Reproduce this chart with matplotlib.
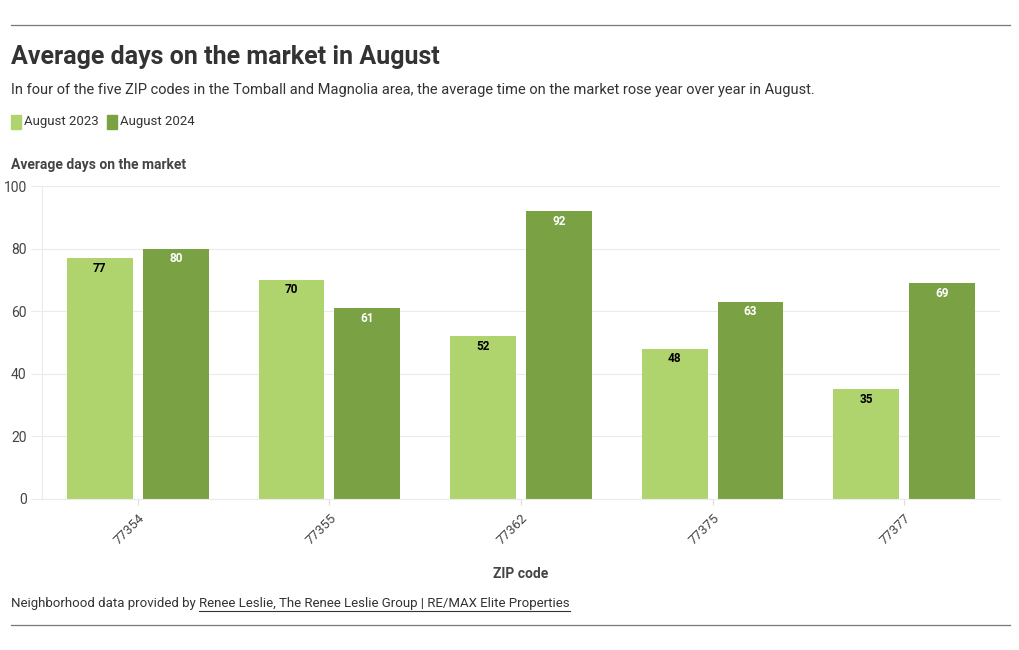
import matplotlib.pyplot as plt
import numpy as np
from matplotlib.lines import Line2D

plt.rcParams['font.family'] = ['Roboto', 'DejaVu Sans']

# data
zip_codes = ['77354', '77355', '77362', '77375', '77377']
aug_2023 = [77, 70, 52, 48, 35]
aug_2024 = [80, 61, 92, 63, 69]

c23 = '#afd36d'
c24 = '#7aa143'
txt = '#333333'

W, H = 1020, 650
fig = plt.figure(figsize=(W / 100, H / 100), dpi=100)

def fx(px):
    return px / W

def fy(py):
    return 1 - py / H

ax = fig.add_axes([fx(42), fy(499), fx(1000) - fx(42), fy(186) - fy(499)])

x = np.arange(len(zip_codes))
bw = 0.344
off = 0.198
b1 = ax.bar(x - off, aug_2023, bw, color=c23, zorder=2)
b2 = ax.bar(x + off, aug_2024, bw, color=c24, zorder=2)

for rect, v in zip(b1, aug_2023):
    ax.text(rect.get_x() + rect.get_width() / 2, v - 3.2, str(v), ha='center', va='center',
            fontsize=8.5, fontweight='bold', color='black', zorder=3)
for rect, v in zip(b2, aug_2024):
    ax.text(rect.get_x() + rect.get_width() / 2, v - 3.2, str(v), ha='center', va='center',
            fontsize=8.5, fontweight='bold', color='white', zorder=3)

ax.set_xlim(-0.5, len(zip_codes) - 0.5)
ax.set_ylim(0, 100)
ax.set_yticks([0, 20, 40, 60, 80, 100])
ax.yaxis.grid(True, color='#ebebeb', linewidth=0.8, zorder=0)
ax.tick_params(axis='y', length=8, color='#ebebeb', labelsize=10, labelcolor='#444444', pad=3)
ax.tick_params(axis='x', length=4, color='#dddddd', labelsize=9.5, labelcolor='#444444', pad=5)
ax.set_xticks(x)
ax.set_xticklabels(zip_codes, rotation=45, ha='right', rotation_mode='anchor')
for s in ['top', 'right']:
    ax.spines[s].set_visible(False)
ax.spines['left'].set_color('#ebebeb')
ax.spines['bottom'].set_color('#ebebeb')
ax.set_xlabel('ZIP code', fontsize=10, fontweight='bold', color='#444444', labelpad=14)

# header / footer
fig.add_artist(Line2D([fx(11), fx(1010)], [fy(25), fy(25)], color='#777777', linewidth=0.9))
fig.add_artist(Line2D([fx(11), fx(1010)], [fy(625), fy(625)], color='#777777', linewidth=0.9))
fig.text(fx(11), fy(57), 'Average days on the market in August', fontsize=18,
         fontweight='bold', color=txt, va='center', ha='left')
fig.text(fx(11), fy(90), 'In four of the five ZIP codes in the Tomball and Magnolia area, the average time on the market rose year over year in August.',
         fontsize=10.5, color=txt, va='center', ha='left')

# legend
lx = 11
for lab, col in [('August 2023', c23), ('August 2024', c24)]:
    fig.patches.append(plt.Rectangle((fx(lx), fy(129)), fx(10), fy(115) - fy(129),
                                     transform=fig.transFigure, color=col, figure=fig))
    t = fig.text(fx(lx + 13), fy(122), lab, fontsize=9.5, color=txt, va='center', ha='left')
    fig.canvas.draw()
    bb = t.get_window_extent()
    lx = bb.x1 + 8

fig.text(fx(11), fy(165), 'Average days on the market', fontsize=10, fontweight='bold',
         color='#444444', va='center', ha='left')

t1 = fig.text(fx(11), fy(603), 'Neighborhood data provided by ', fontsize=9.5, color=txt,
              va='center', ha='left')
fig.canvas.draw()
bb = t1.get_window_extent()
t2 = fig.text(bb.x1 / W, fy(603), 'Renee Leslie, The Renee Leslie Group | RE/MAX Elite Properties',
              fontsize=9.5, color=txt, va='center', ha='left')
fig.canvas.draw()
bb2 = t2.get_window_extent()
fig.add_artist(Line2D([bb2.x0 / W, bb2.x1 / W], [(bb2.y0 - 1) / H, (bb2.y0 - 1) / H],
                      color=txt, linewidth=0.8))

plt.savefig('out.png', dpi=100, facecolor='white')
